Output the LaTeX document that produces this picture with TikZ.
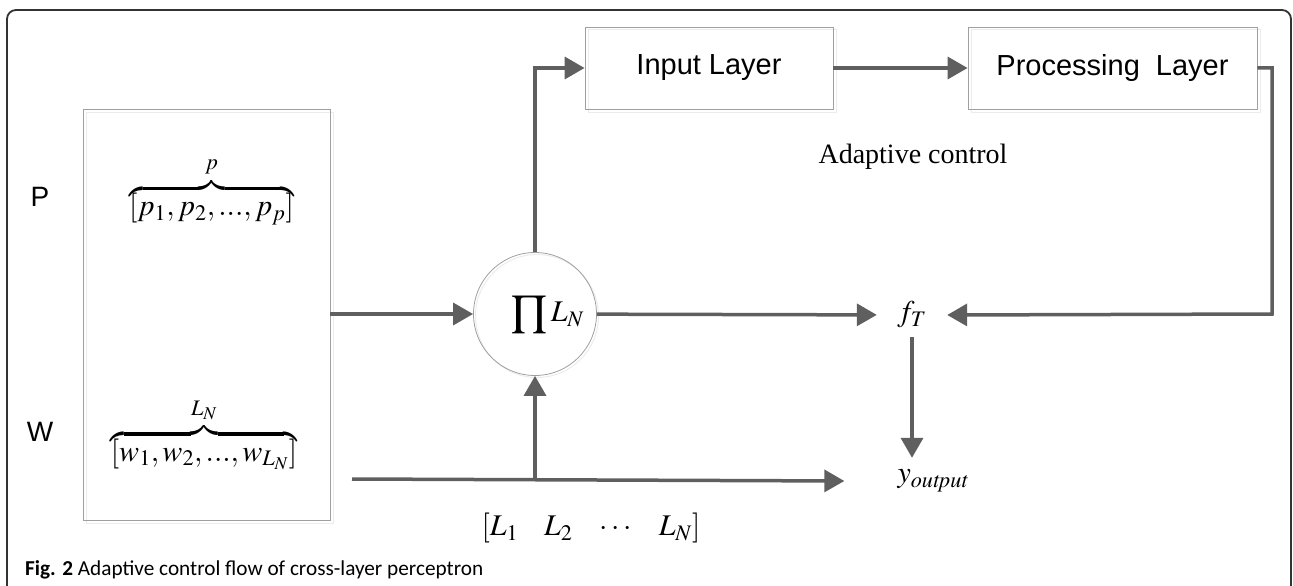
\documentclass[tikz,border=0pt]{standalone}
\usepackage{graphicx}
\usepackage{amsmath}
\usepackage{mathptmx}
\usepackage{fontspec}
\setmainfont{Liberation Serif}
\newfontfamily\labelfont{Liberation Sans}
\newfontfamily\figcapfont{Carlito}
\usetikzlibrary{arrows.meta,positioning}
\definecolor{flowgray}{HTML}{5F5F5F}
\definecolor{edgegray}{HTML}{A0A0A0}

\begin{document}
\begin{tikzpicture}[x=1pt, y=-1pt,
    layer/.style={draw=edgegray, line width=0.8pt, font=\labelfont\fontsize{29}{34}\selectfont,
        preaction={draw=gray!15, line width=1pt, transform canvas={shift={(3pt,-3pt)}}}},
    flow/.style={-{Triangle[length=20pt, width=22pt]}, line width=3.5pt, draw=flowgray},
    mathtext/.style={font=\fontsize{30}{36}\selectfont, inner sep=0pt},
    side/.style={font=\labelfont\fontsize{28}{34}\selectfont},
    figcap/.style={anchor=west, inner sep=0pt}
]
\useasboundingbox (0,0) rectangle (1293,586);
\draw[line width=1.8pt, draw=black!80, rounded corners=9pt] (7,586) -- (7,10) -- (1291,10) -- (1291,586);

% data block
\node[layer, minimum width=247pt, minimum height=411pt] (data) at (206.5,314.5) {};
\node[side] (plabel) at (40,197) {P};
\node[side] (wlabel) at (40,432) {W};
\node[mathtext] (pvec) at (211.5,191)
    {$\overbrace{\left[p_1, p_2, ..., p_p\right]}^{\raisebox{8pt}{$\scriptstyle p$}}$};
\node[mathtext] (wvec) at (204,434)
    {$\overbrace{\left[w_1, w_2, ..., w_{L_N}\right]}^{\raisebox{8pt}{$\scriptstyle L_N$}}$};

% product and layers
\node[circle, draw=gray!75, line width=0.8pt, minimum size=123pt, inner sep=0pt, font=\fontsize{30}{36}\selectfont,
    preaction={draw=gray!15, line width=1pt, transform canvas={shift={(2pt,-2pt)}}}] (prod) at (535,314)
    {\hspace*{26pt}$\displaystyle\prod L_N$};
\node[layer, minimum width=248pt, minimum height=82pt] (input) at (709,68) {Input Layer};
\node[layer, minimum width=289pt, minimum height=82pt] (proc) at (1112.5,68) {Processing\ \ Layer};
\node[font=\fontsize{28}{34}\selectfont] (ctrl) at (913,157) {Adaptive control};

% outputs
\node[mathtext, minimum width=70pt, minimum height=44pt] (ft) at (912,315) {$f_T$};
\node[mathtext, minimum height=46pt] (yout) at (933,481) {$y_{\mathit{output}}$};
\node[mathtext] (lvec) at (591,528)
    {$\left[L_1\hspace{26pt}L_2\hspace{24pt}\cdots\hspace{24pt}L_N\right]$};

\node[figcap] (caption) at (25,570)
    {\resizebox{458pt}{!}{\figcapfont\fontsize{20}{24}\selectfont\textbf{Fig. 2} Adaptive control flow of cross-layer perceptron}};

\coordinate (wstart) at (352,479);
\coordinate (back) at (1272,314);

\draw[flow] (data.east |- prod.west) -- (prod.west);
\draw[flow] (prod.north) |- (input.west);
\draw[flow] (input) -- (proc);
\draw[flow] (prod) -- (ft);
\draw[flow] (proc.east) -| (back) -- (ft.east);
\draw[flow] (ft) -- (ft |- yout.north);
\draw[flow] (wstart) -- ([xshift=-53pt]yout.west);
\draw[flow] (prod |- wstart) -- (prod.south);
\end{tikzpicture}
\end{document}
